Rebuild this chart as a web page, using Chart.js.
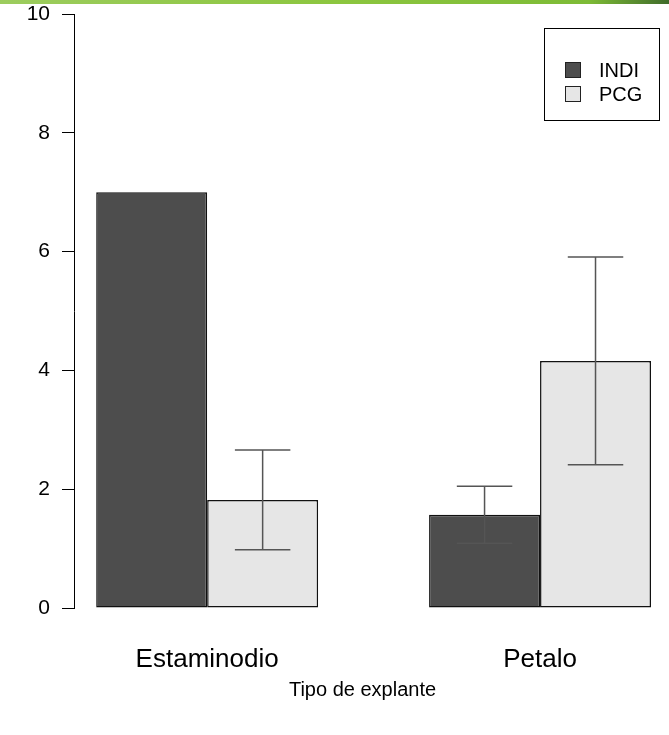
<!DOCTYPE html>
<html>
<head>
<meta charset="utf-8">
<script src="https://cdn.jsdelivr.net/npm/chart.js@4"></script>
<style>
  html, body { margin: 0; padding: 0; background: #fff; overflow: hidden; }
  .topbar { position: absolute; left: 0; top: 0; width: 669px; height: 4px;
    background: linear-gradient(to right, #9ccc5e 0%, #8cc63f 50%, #7dbb36 88%, #3f6b2a 100%); }
  canvas { display: block; }
</style>
</head>
<body>
<div class="topbar"></div>
<canvas id="chart" width="669" height="735"></canvas>
<script>
// data
const categories = ['Estaminodio', 'Petalo'];
const seriesNames = ['INDI', 'PCG'];
const indiValues = [7.0, 1.57];
const indiErrors = [null, 0.48];
const pcgValues = [1.82, 4.16];
const pcgErrors = [0.84, 1.75];
const yTicks = [0, 2, 4, 6, 8, 10];
const axisTitle = 'Tipo de explante';

const FONT = "'Liberation Sans', Arial, sans-serif";

// group centres on a linear x axis (R barplot style: bar width 1, gap 1)
const groupX = categories.map((c, i) => 2 + 3 * i);
const toPoints = vals => vals.map((v, i) => ({ x: groupX[i], y: v }));

const errorBars = {
    id: 'errorBars',
    afterDatasetsDraw(chart) {
        const { ctx, scales: { y } } = chart;
        ctx.save();
        ctx.strokeStyle = '#555';
        ctx.lineWidth = 1.5;
        chart.data.datasets.forEach((ds, di) => {
            const meta = chart.getDatasetMeta(di);
            (ds.errors || []).forEach((err, i) => {
                if (err == null) return;
                const bar = meta.data[i];
                const v = ds.data[i].y;
                const top = y.getPixelForValue(v + err);
                const bot = y.getPixelForValue(v - err);
                const half = bar.width / 4;
                ctx.beginPath();
                ctx.moveTo(bar.x, top); ctx.lineTo(bar.x, bot);
                ctx.moveTo(bar.x - half, top); ctx.lineTo(bar.x + half, top);
                ctx.moveTo(bar.x - half, bot); ctx.lineTo(bar.x + half, bot);
                ctx.stroke();
            });
        });
        ctx.restore();
    }
};

const boxLegend = {
    id: 'boxLegend',
    afterDraw(chart) {
        const ctx = chart.ctx;
        const x0 = 544, y0 = 28, w = 115, h = 92;
        ctx.save();
        ctx.strokeStyle = '#000';
        ctx.lineWidth = 1;
        ctx.strokeRect(x0 + 0.5, y0 + 0.5, w, h);
        ctx.font = '20px ' + FONT;
        ctx.textBaseline = 'middle';
        chart.data.datasets.forEach((ds, i) => {
            const cy = y0 + 42 + i * 24;
            ctx.fillStyle = ds.backgroundColor;
            ctx.fillRect(x0 + 21, cy - 8, 15, 15);
            ctx.strokeStyle = '#222';
            ctx.strokeRect(x0 + 21.5, cy - 7.5, 15, 15);
            ctx.fillStyle = '#000';
            ctx.fillText(ds.label, x0 + 55, cy + 1);
        });
        ctx.restore();
    }
};

new Chart(document.getElementById('chart'), {
    type: 'bar',
    data: {
        datasets: [
            { label: seriesNames[0], data: toPoints(indiValues), errors: indiErrors,
              backgroundColor: '#4d4d4d', borderColor: '#111', borderWidth: 1.5, borderSkipped: false },
            { label: seriesNames[1], data: toPoints(pcgValues), errors: pcgErrors,
              backgroundColor: '#e6e6e6', borderColor: '#111', borderWidth: 1.5, borderSkipped: false },
        ]
    },
    options: {
        responsive: false,
        devicePixelRatio: 1,
        animation: false,
        categoryPercentage: 2 / 3,
        barPercentage: 1,
        layout: { padding: { top: 14, right: 18, left: 0, bottom: 0 } },
        plugins: { legend: { display: false }, tooltip: { enabled: false } },
        scales: {
            x: {
                type: 'linear',
                min: 0.8,
                max: 6.0,
                offset: false,
                grid: { display: false, offset: false },
                border: { display: false },
                afterBuildTicks: s => { s.ticks = groupX.map(v => ({ value: v })); },
                ticks: {
                    callback: (v) => categories[groupX.indexOf(v)],
                    color: '#000',
                    font: { family: FONT, size: 26 },
                    padding: 28,
                    maxRotation: 0
                },
                title: {
                    display: true,
                    text: axisTitle,
                    color: '#000',
                    font: { family: FONT, size: 20 },
                    padding: { top: 0, bottom: 33 }
                },
                afterFit: s => { s.height = 127; s.paddingLeft = 0; s.paddingRight = 0; }
            },
            y: {
                min: 0,
                max: 10,
                afterBuildTicks: s => { s.ticks = yTicks.map(v => ({ value: v })); },
                grid: { drawOnChartArea: false, tickLength: 12, color: '#000', lineWidth: 1 },
                border: { display: true, color: '#000', width: 1 },
                ticks: {
                    color: '#000',
                    font: { family: FONT, size: 21 },
                    padding: 12
                },
                afterFit: s => { s.width = 74; s.paddingTop = 0; s.paddingBottom = 0; }
            }
        }
    },
    plugins: [errorBars, boxLegend]
});
</script>
</body>
</html>
